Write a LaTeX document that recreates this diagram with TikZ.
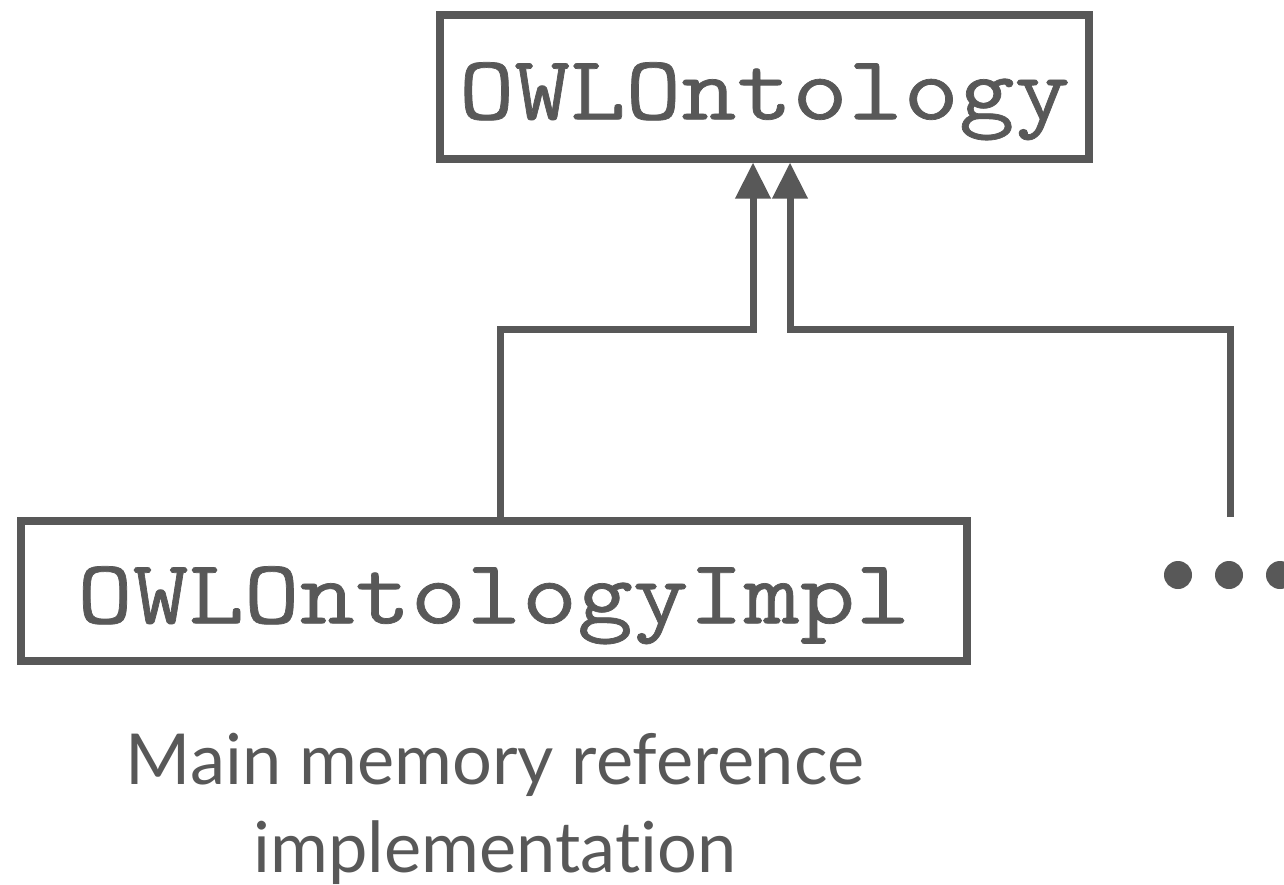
\documentclass[tikz,border=0pt]{standalone}
\usepackage{fontspec}
\newfontfamily\notefont[Ligatures=NoCommon]{Lato}
\newfontfamily\classfont[FakeStretch=1.18,FakeBold=0.8]{Latin Modern Mono}
\usetikzlibrary{arrows.meta,positioning,calc}
\definecolor{umlgray}{RGB}{88,88,88}

\begin{document}
\begin{tikzpicture}[x=0.01cm,y=-0.01cm]
  \tikzset{class/.style={draw=umlgray,line width=0.08cm,rectangle,text=umlgray,
      font=\fontsize{26}{26}\selectfont\classfont,inner sep=0pt,text height=0.645cm,text depth=0cm}}
  \tikzset{isa/.style={draw=umlgray,line width=0.07cm,-{Triangle[length=0.36cm,width=0.34cm]}}}
  \tikzset{note/.style={text=umlgray,align=center,font=\fontsize{20}{25}\selectfont\notefont}}
  \useasboundingbox (0,0) rectangle (1284,884);
  \node[class,minimum width=6.48cm,minimum height=1.43cm] (ont) at (764.5,87) {OWLOntology};
  \node[class,minimum width=9.46cm,minimum height=1.40cm] (impl) at (494,591) {OWLOntologyImpl};
  \node[note] (desc) at (495,809) {Main memory reference\\implementation};
  \coordinate (more) at (1230,517);
  % generalisation arrows
  \draw[isa] ($(impl.north)+(6,0)$) |- (753,329) -- (753,0 |- ont.south);
  \draw[isa] (more) |- (790,329) -- (790,0 |- ont.south);
  % further subclasses
  \foreach \i in {0,1,2}
    \fill[umlgray] (1178+51*\i,575) circle (0.14cm);
\end{tikzpicture}
\end{document}
